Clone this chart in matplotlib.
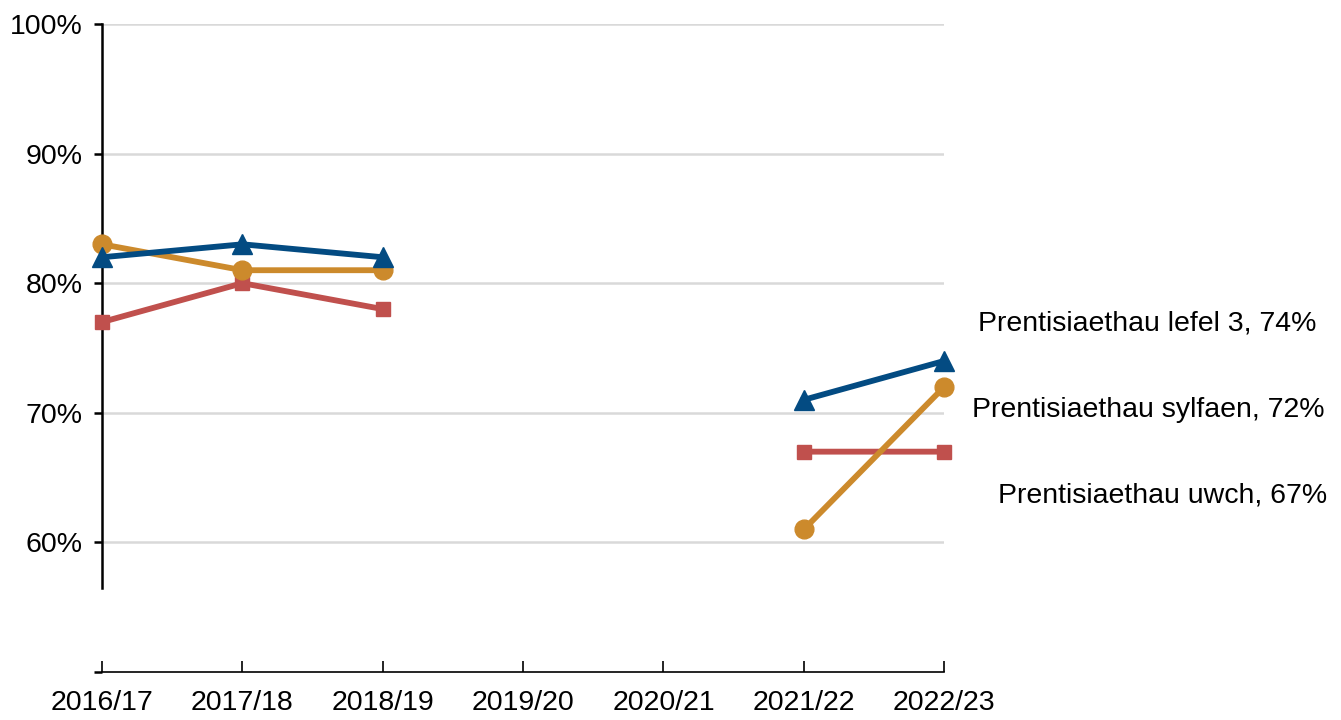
import numpy as np
import matplotlib.pyplot as plt

plt.rcParams["font.family"] = ["Liberation Sans", "DejaVu Sans"]

# Data
blynyddoedd = ["2016/17", "2017/18", "2018/19", "2019/20", "2020/21", "2021/22", "2022/23"]
lefel3 = [82, 83, 82, np.nan, np.nan, 71, 74]
sylfaen = [83, 81, 81, np.nan, np.nan, 61, 72]
uwch = [77, 80, 78, np.nan, np.nan, 67, 67]
enwau = ["Prentisiaethau lefel 3", "Prentisiaethau sylfaen", "Prentisiaethau uwch"]

fig = plt.figure(figsize=(13.41, 7.2), dpi=100)
ax = fig.add_axes([0.0761, 0.0667, 0.628, 0.9])

x = np.arange(len(blynyddoedd))

# gridlines
for g in [60, 70, 80, 90, 100]:
    ax.axhline(g, color="#d9d9d9", lw=1.8, zorder=0)

ax.plot(x, uwch, color="#c0504d", lw=4.2, marker="s", ms=10, zorder=3, clip_on=False)
ax.plot(x, sylfaen, color="#cc8a2c", lw=4.2, marker="o", ms=13.5, zorder=4, clip_on=False)
ax.plot(x, lefel3, color="#034b82", lw=4.2, marker="^", ms=15, zorder=5, clip_on=False)

# labels on the right
labels = [(enwau[0], lefel3[-1], 76.85, 6.24),
          (enwau[1], sylfaen[-1], 70.2, 6.20),
          (enwau[2], uwch[-1], 63.6, 6.38)]
for enw, val, ypos, xpos in labels:
    ax.text(xpos, ypos, f"{enw}, {val:.0f}%", fontsize=20.5, va="center",
            ha="left", clip_on=False)

ax.set_xlim(0, 6)
ax.set_ylim(50, 100)
ax.set_yticks([50, 60, 70, 80, 90, 100])
ax.set_yticklabels(["", "60%", "70%", "80%", "90%", "100%"])
ax.set_xticks(x)
ax.set_xticklabels(blynyddoedd)

ax.spines["top"].set_visible(False)
ax.spines["right"].set_visible(False)
ax.spines["left"].set_bounds(56.5, 100)
ax.spines["left"].set_linewidth(1.8)
ax.spines["bottom"].set_linewidth(1.2)
ax.tick_params(axis="y", direction="out", length=6, width=1.8, labelsize=20.5, pad=8)
ax.tick_params(axis="x", direction="in", length=8, width=1.2, labelsize=20.5, pad=13)

fig.savefig("out.png", dpi=100)
